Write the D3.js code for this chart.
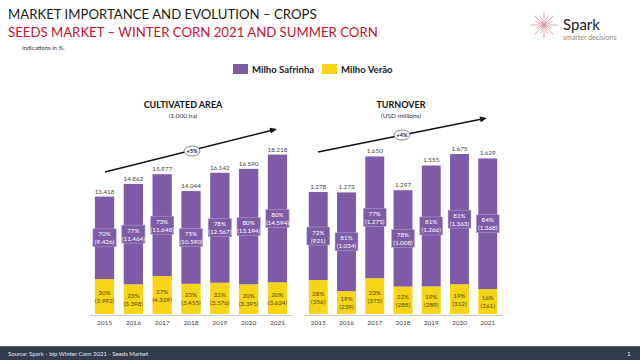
<!DOCTYPE html>
<html><head><meta charset="utf-8">
<script src="https://cdn.jsdelivr.net/npm/d3@7"></script>
<style>body{margin:0;background:#fff}svg{display:block}text{font-family:Lato,"Open Sans",sans-serif}</style>
</head><body>
<svg id="c" width="640" height="360"></svg>
<script>
const years = ["2015","2016","2017","2018","2019","2020","2021"];
const areaSafrinha = [9.426, 11.464, 11.648, 10.590, 12.567, 13.194, 14.594];
const areaVerao = [3.992, 3.398, 4.329, 3.455, 3.576, 3.395, 3.624];
const areaTotal = [13.418, 14.862, 15.977, 14.044, 16.142, 16.590, 18.218];
const areaSafPct = [70, 77, 73, 75, 78, 80, 80];
const areaVerPct = [30, 23, 27, 25, 22, 20, 20];
const turnSafrinha = [921, 1034, 1275, 1008, 1266, 1363, 1368];
const turnVerao = [356, 239, 375, 288, 289, 312, 261];
const turnTotal = [1278, 1273, 1650, 1297, 1555, 1675, 1629];
const turnSafPct = [72, 81, 77, 78, 81, 81, 84];
const turnVerPct = [28, 19, 23, 22, 19, 19, 16];
const seriesNames = ["Milho Safrinha", "Milho Verão"];

const PURPLE = "#7d5ba6", YELLOW = "#f6d417";
const svg = d3.select("#c");

// Header
svg.append("text").attr("x", 8).attr("y", 19).attr("font-size", 13.2).attr("fill", "#1a1a1a")
  .text("MARKET IMPORTANCE AND EVOLUTION – CROPS");
svg.append("text").attr("x", 8).attr("y", 37).attr("font-size", 13.2).attr("fill", "#c0152f")
  .text("SEEDS MARKET – WINTER CORN 2021 AND SUMMER CORN");
svg.append("text").attr("x", 22).attr("y", 50).attr("font-size", 6).attr("fill", "#333")
  .text("Indications in %.");

// Logo
const logo = svg.append("g").attr("transform", "translate(544,25)");
for (let i = 0; i < 16; i++) {
  const a = i * Math.PI / 8, r = (i % 2 ? 9 : 13);
  logo.append("line").attr("x1", 0).attr("y1", 0).attr("x2", r * Math.cos(a)).attr("y2", r * Math.sin(a))
    .attr("stroke", "#d98a98").attr("stroke-width", 0.8);
}
svg.append("text").attr("x", 563).attr("y", 30).attr("font-size", 15).attr("fill", "#222").text("Spark");
svg.append("text").attr("x", 563).attr("y", 40).attr("font-size", 7).attr("fill", "#888").text("smarter decisions");

// Legend
const legend = [{n: seriesNames[0], c: PURPLE, x: 233}, {n: seriesNames[1], c: YELLOW, x: 322}];
legend.forEach(l => {
  svg.append("rect").attr("x", l.x).attr("y", 64).attr("width", 15).attr("height", 10).attr("fill", l.c);
  svg.append("text").attr("x", l.x + 19).attr("y", 72.5).attr("font-size", 9.6).attr("font-weight", "bold")
    .attr("fill", "#222").text(l.n);
});

function chart(opt) {
  const x = d3.scaleBand().domain(years).range(opt.xr).paddingInner(0.33).paddingOuter(0.17);
  const y = d3.scaleLinear().domain([0, opt.max]).range([314, 314 - opt.max * opt.ppu]);
  const g = svg.append("g");
  const fmt = opt.fmt;
  // axis
  const ax = g.append("g").attr("transform", "translate(0,315)").call(d3.axisBottom(x).tickSize(0).tickPadding(5));
  ax.select(".domain").attr("stroke", "#bbb").attr("stroke-width", 0.8);
  ax.selectAll("text").attr("font-size", 6.5).attr("fill", "#444").attr("font-family", "Lato, sans-serif");

  years.forEach((yr, i) => {
    const bx = x(yr), bw = x.bandwidth(), cx = bx + bw / 2;
    const v = opt.ver[i], s = opt.saf[i];
    g.append("rect").attr("x", bx).attr("width", bw).attr("y", y(v)).attr("height", y(0) - y(v)).attr("fill", YELLOW);
    g.append("rect").attr("x", bx).attr("width", bw).attr("y", y(v + s)).attr("height", y(v) - y(v + s)).attr("fill", PURPLE);
    g.append("text").attr("x", cx).attr("y", y(v + s) - 3).attr("text-anchor", "middle").attr("font-size", 6.3)
      .attr("fill", "#444").text(fmt(opt.tot[i]));
    const pm = (y(v) + y(v + s)) / 2;
    const pl = "(" + fmt(s) + ")";
    const bwL = bw + 4;
    g.append("rect").attr("x", cx - bwL / 2).attr("y", pm - 9).attr("width", bwL).attr("height", 18)
      .attr("fill", PURPLE).attr("stroke", "#b9a6d4").attr("stroke-width", 0.5);
    g.append("text").attr("x", cx).attr("y", pm - 1.5).attr("text-anchor", "middle").attr("font-size", 6.3)
      .attr("fill", "#fff").text(opt.safPct[i] + "%");
    g.append("text").attr("x", cx).attr("y", pm + 6.5).attr("text-anchor", "middle").attr("font-size", 6.3)
      .attr("fill", "#fff").text(pl);
    const ym = (y(0) + y(v)) / 2;
    g.append("text").attr("x", cx).attr("y", ym - 1.5).attr("text-anchor", "middle").attr("font-size", 6.3)
      .attr("fill", "#5a4a00").text(opt.verPct[i] + "%");
    g.append("text").attr("x", cx).attr("y", ym + 6.5).attr("text-anchor", "middle").attr("font-size", 6.3)
      .attr("fill", "#5a4a00").text("(" + fmt(v) + ")");
  });

  g.append("text").attr("x", opt.tx).attr("y", 108).attr("text-anchor", "middle").attr("font-size", 9)
    .attr("font-weight", "bold").attr("fill", "#111").text(opt.title);
  g.append("text").attr("x", opt.tx).attr("y", 118).attr("text-anchor", "middle").attr("font-size", 6.5)
    .attr("fill", "#333").text(opt.sub);

  const a0 = opt.arrow[0], a1 = opt.arrow[1];
  const ang = Math.atan2(a1[1] - a0[1], a1[0] - a0[0]);
  g.append("line").attr("x1", a0[0]).attr("y1", a0[1]).attr("x2", a1[0] - 5 * Math.cos(ang)).attr("y2", a1[1] - 5 * Math.sin(ang))
    .attr("stroke", "#111").attr("stroke-width", 1.4);
  const hx = a1[0], hy = a1[1];
  const p1 = [hx - 7 * Math.cos(ang) + 3 * Math.sin(ang), hy - 7 * Math.sin(ang) - 3 * Math.cos(ang)];
  const p2 = [hx - 7 * Math.cos(ang) - 3 * Math.sin(ang), hy - 7 * Math.sin(ang) + 3 * Math.cos(ang)];
  g.append("path").attr("d", `M${hx},${hy}L${p1}L${p2}Z`).attr("fill", "#111");
  const e = opt.ell;
  g.append("ellipse").attr("cx", e[0]).attr("cy", e[1]).attr("rx", 8).attr("ry", 5).attr("fill", "#fff")
    .attr("stroke", "#555").attr("stroke-width", 0.7);
  g.append("text").attr("x", e[0]).attr("y", e[1] + 2).attr("text-anchor", "middle").attr("font-size", 5.5)
    .attr("font-weight", "bold").attr("fill", "#222").text(opt.growth);
}

const fmtArea = v => d3.format(".3f")(v);
const fmtTurn = v => d3.format(",")(Math.round(v)).replace(/,/g, ".");

chart({xr: [90, 292], max: 18.218, ppu: 8.75, saf: areaSafrinha, ver: areaVerao, tot: areaTotal,
  safPct: areaSafPct, verPct: areaVerPct, fmt: fmtArea, title: "CULTIVATED AREA", sub: "(1.000 ha)", tx: 183,
  arrow: [[105, 172], [277, 129]], ell: [192, 151], growth: "+5%"});
chart({xr: [304, 502], max: 1675, ppu: 0.0955, saf: turnSafrinha, ver: turnVerao, tot: turnTotal,
  safPct: turnSafPct, verPct: turnVerPct, fmt: fmtTurn, title: "TURNOVER", sub: "(USD millions)", tx: 401,
  arrow: [[318, 152], [487, 118]], ell: [402, 135], growth: "+4%"});

// Footer
svg.append("rect").attr("x", 0).attr("y", 346).attr("width", 640).attr("height", 14).attr("fill", "#323c4c");
svg.append("rect").attr("x", 0).attr("y", 346).attr("width", 640).attr("height", 1).attr("fill", "#5a6373");
svg.append("text").attr("x", 8).attr("y", 356).attr("font-size", 6).attr("fill", "#e8e8e8")
  .text("Source: Spark - bip Winter Corn 2021 - Seeds Market");
svg.append("text").attr("x", 627).attr("y", 356).attr("font-size", 6.5).attr("fill", "#e8e8e8").text("1");
</script>
</body></html>
